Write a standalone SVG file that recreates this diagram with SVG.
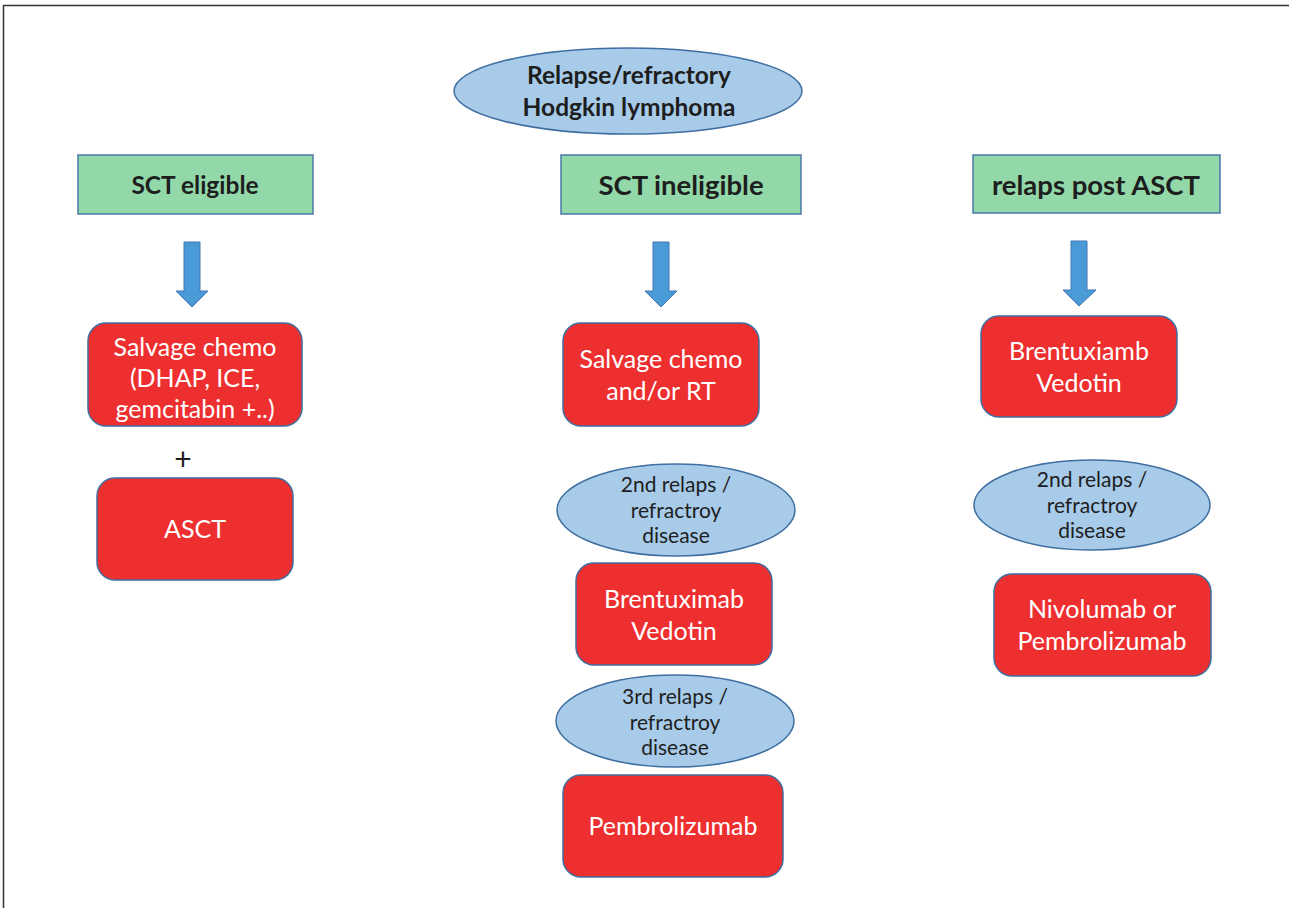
<svg xmlns="http://www.w3.org/2000/svg" width="1289" height="908" viewBox="0 0 1289 908">
<style>
.hdr{fill:#92d8a9;stroke:#4a78a8;stroke-width:1.5}
.red{fill:#ee2f2f;stroke:#3f6ea0;stroke-width:1.5}
.ell{fill:#a7cbe9;stroke:#3f6ea0;stroke-width:1.5}
.arr{fill:#4a9ad8;stroke:#4177b0;stroke-width:1}
text{font-family:Lato,"Open Sans","Liberation Sans",sans-serif;text-anchor:middle}
.b{font-weight:bold;font-size:24.5px;fill:#1e1e1e}
.w{font-size:25px;fill:#ffffff}
.d{font-size:21px;fill:#1e1e1e}
</style>
<rect width="1289" height="908" fill="#ffffff"/>
<path d="M3.5 908V5.5H1289" fill="none" stroke="#333" stroke-width="1.5"/>
<g id="root">
<ellipse class="ell" cx="628" cy="91" rx="174" ry="43"/>
<text class="b" x="629" y="84">Relapse/refractory</text>
<text class="b" x="629" y="116">Hodgkin lymphoma</text>
</g>
<g id="sct-eligible">
<rect class="hdr" x="78" y="155" width="235" height="59"/>
<text class="b" x="195" y="194">SCT eligible</text>
</g>
<g id="sct-ineligible">
<rect class="hdr" x="561" y="155" width="240" height="59"/>
<text class="b" x="681" y="195" style="font-size:27.5px">SCT ineligible</text>
</g>
<g id="relaps-post-asct">
<rect class="hdr" x="973" y="155" width="247" height="58"/>
<text class="b" x="1096" y="195" style="font-size:27.5px">relaps post ASCT</text>
</g>
<g id="connectors">
<path class="arr" d="M184 242H200V291H208L192 307L176 291H184Z"/>
<path class="arr" d="M653 242H669V291H677L661 307L645 291H653Z"/>
<path class="arr" d="M1071 241H1087V290H1096L1079 306L1063 290H1071Z"/>
</g>
<g id="salvage-left">
<rect class="red" x="88" y="323" width="214" height="103" rx="18"/>
<text class="w" x="195" y="356">Salvage chemo</text>
<text class="w" x="195" y="387">(DHAP, ICE,</text>
<text class="w" x="195" y="418">gemcitabin +..)</text>
</g>
<g id="plus">
<text x="183" y="470" style="font-size:30px;fill:#1e1e1e">+</text>
</g>
<g id="asct">
<rect class="red" x="97" y="478" width="196" height="102" rx="18"/>
<text class="w" x="195" y="538">ASCT</text>
</g>
<g id="salvage-mid">
<rect class="red" x="563" y="323" width="196" height="103" rx="18"/>
<text class="w" x="661" y="368">Salvage chemo</text>
<text class="w" x="661" y="400">and/or RT</text>
</g>
<g id="relaps2-mid">
<ellipse class="ell" cx="676" cy="510" rx="119" ry="46"/>
<text class="d" x="676" y="492">2nd relaps /</text>
<text class="d" x="676" y="517.5">refractroy</text>
<text class="d" x="676" y="543">disease</text>
</g>
<g id="bv-mid">
<rect class="red" x="576" y="563" width="196" height="102" rx="18"/>
<text class="w" x="674" y="608">Brentuximab</text>
<text class="w" x="674" y="640">Vedotin</text>
</g>
<g id="relaps3-mid">
<ellipse class="ell" cx="675" cy="721" rx="119" ry="46"/>
<text class="d" x="675" y="704">3rd relaps /</text>
<text class="d" x="675" y="729.5">refractroy</text>
<text class="d" x="675" y="755">disease</text>
</g>
<g id="pembro-mid">
<rect class="red" x="563" y="775" width="220" height="102" rx="18"/>
<text class="w" x="673" y="835">Pembrolizumab</text>
</g>
<g id="bv-right">
<rect class="red" x="981" y="316" width="196" height="101" rx="18"/>
<text class="w" x="1079" y="360">Brentuxiamb</text>
<text class="w" x="1079" y="392">Vedotin</text>
</g>
<g id="relaps2-right">
<ellipse class="ell" cx="1092" cy="505" rx="118" ry="45"/>
<text class="d" x="1092" y="487">2nd relaps /</text>
<text class="d" x="1092" y="512.5">refractroy</text>
<text class="d" x="1092" y="538">disease</text>
</g>
<g id="nivo-right">
<rect class="red" x="994" y="574" width="217" height="102" rx="18"/>
<text class="w" x="1102" y="618">Nivolumab or</text>
<text class="w" x="1102" y="650">Pembrolizumab</text>
</g>
</svg>
